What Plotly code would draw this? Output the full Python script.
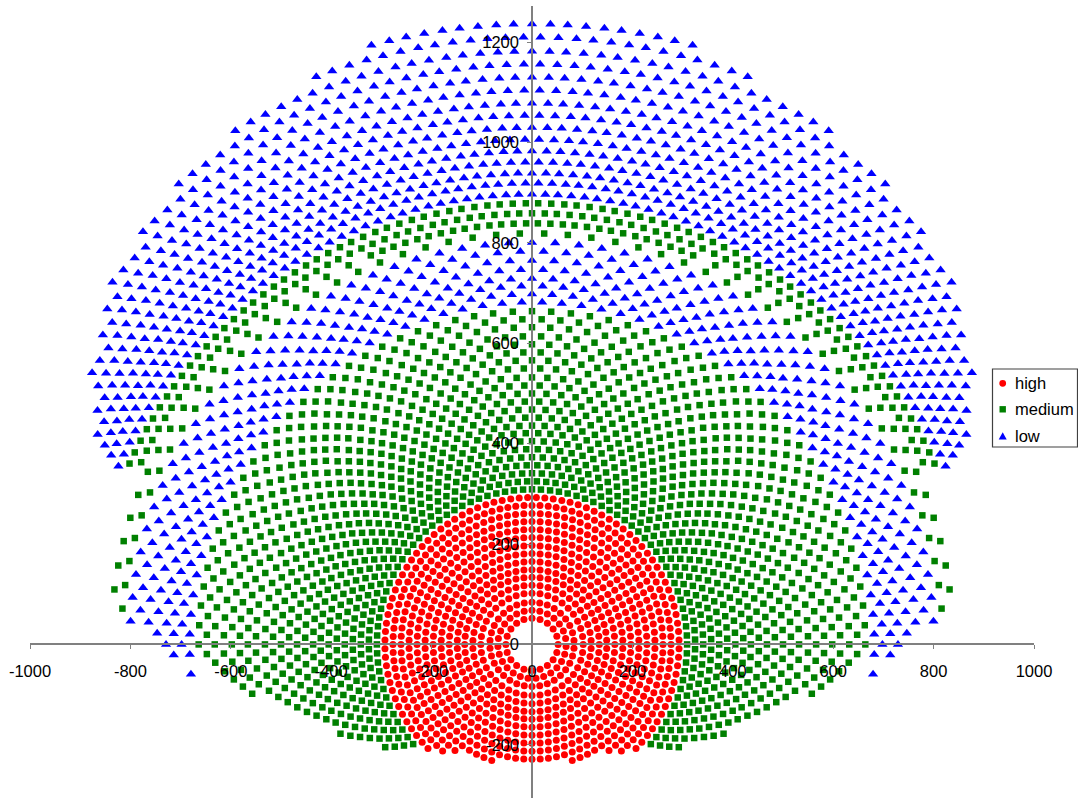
import math
import plotly.graph_objects as go

# Values estimated by eye from the reference: ring radii (data units), spoke angles
# (tenths of a degree from straight up, right half; left half is mirrored) and the
# largest angle each ring reaches.
S52 = [0,180,360,540,720,900,1080,1260,1440,1620,1800]
S68 = [0,133,267,400,533,667,800,933,1067,1200,1333,1467,1600,1733]
S84 = [0,106,212,318,424,529,635,741,847,953,1059,1165,1271,1376,1482,1588,1694,1800]
S102 = [0,90,180,270,360,450,540,630,720,810,900,990,1080,1170,1260,1350,1440,1530,1620,1710,1800]
S118 = [0,78,157,235,313,391,470,548,626,704,783,861,939,1017,1096,1174,1252,1330,1409,1487,1565,1643,1722,1800]
S134 = [0,69,138,208,277,346,415,485,554,623,692,762,831,900,969,1038,1108,1177,1246,1315,1385,1454,1523,1592,1662,1731,1800]
S149 = [0,62,124,186,248,310,372,434,497,559,621,683,745,807,869,931,993,1055,1117,1179,1241,1303,1366,1428,1490,1552,1614,1676,1738,1800]
S165 = [0,56,113,169,225,281,338,394,450,506,563,619,675,731,788,844,900,956,1013,1069,1125,1181,1238,1294,1350,1406,1463,1519,1575,1631,1688,1744,1800]
S181 = [0,51,103,154,206,257,309,360,411,463,514,566,617,669,720,771,823,874,926,977,1029,1080,1131,1183,1234,1286,1337,1389,1440,1491,1543,1594,1646,1697,1749,1800]
S197 = [0,47,95,142,189,237,284,332,379,426,474,521,568,616,663,711,758,805,853,900,947,995,1042,1089,1137,1184,1232,1279,1326,1374,1421,1468,1516,1563,1611,1658,1705,1753,1800]
S213 = [0,44,88,132,176,220,263,307,351,395,439,483,527,571,615,659,702,746,790,834,878,922,966,1010,1054,1098,1141,1185,1229,1273,1317,1361,1405,1449,1493,1537,1580,1624,1668,1712,1756,1800]
S229 = [0,41,82,123,164,205,245,286,327,368,409,450,491,532,573,614,655,695,736,777,818,859,900,941,982,1023,1064,1105,1145,1186,1227,1268,1309,1350,1391,1432,1473,1514,1555,1595,1636,1677,1718,1759,1800]
S245 = [0,38,77,115,153,191,230,268,306,345,383,421,460,498,536,574,613,651,689,728,766,804,843,881,919,957,996,1034,1072,1111,1149,1187,1226,1264,1302,1340,1379,1417,1455,1494,1532,1570,1609,1647]
S261 = [0,36,72,108,144,180,216,252,288,324,360,396,432,468,504,540,576,612,648,684,720,756,792,828,864,900,936,972,1008,1044,1080,1116,1152,1188,1224,1260,1296,1332,1368,1404,1440,1476]
E3 = [0,33,67,100,133,167,200,233,267,300,333,367,400,433,467,500,533,567,600,633,667,700,733,767,800,833,867,900,933,967,1000,1033,1067,1100,1133,1167,1200,1233,1267,1300,1333,1367,1400]
O3 = [17,50,83,117,150,183,217,250,283,317,350,383,417,450,483,517,550,583,617,650,683,717,750,783,817,850,883,917,950,983,1017,1050,1083,1117,1150,1183,1217,1250,1283,1317,1350,1383,1417]
A1 = [0,17,33,50,67,83,100,117,133,150,167,183,200,217,233,250,267,283,300,317,333,350,367,383,400,417,433,450,467,483,500,517,533,550,567,583,600,617,633,650,667,683,700]
B1 = [8,25,42,58,75,92,108,125,142,158,175,192,208,225,242,258,275,292,308,325,342,358,375,392,408,425,442,458,475,492,508,525,542,558,575,592,608,625,642,658,675,692]
S839 = [8,25,42,58,75,92,108,125,142,158,175,192,208,225,258,292,325,358,392,425,458,492,525,558,592,625,658,692,725,758,792,825]

high_radii = [52,68,84,102,118,134,149,165,181,197,213,229,245,261,277,293]
high_spokes = [S52,S68,S84,S102,S118,S134,S149,S165,S181,S197,S213,S229,S245,S261,E3,O3]
high_limits = [180,180,180,180,180,180,180,180,180,180,180,180,162,146,143,137]

medium_radii = [309,325,341,357,373,389,405,421,436,452,468,484,500,516,532,550,566,582,598,614,632,648,664,819,839,859,879]
medium_spokes = [E3,O3,E3,O3,E3,O3,E3,O3,E3,O3,E3,O3,E3,O3,E3,O3,E3,O3,E3,O3,E3,O3,E3,O3,S839,A1,B1]
medium_limits = [133,131,128,125,123,120,118,116,113,111,109,108,106,104,103,101,100,99,98.5,97.5,96,94.5,93,85,83,66,66.5]

low_radii = [682,698,714,729,747,765,783,801,897,919,939,961,983,1006,1030,1054,1078,1104,1130,1156,1182,1210,1236]
low_spokes = [O3,E3,O3,E3,O3,E3,O3,E3,A1,B1,A1,B1,A1,B1,A1,B1,A1,B1,A1,B1,A1,B1,A1]
low_limits = [95,93,92,90,89,88,87.5,86.7,67,66.5,65.7,65,62,60,59,55,52.5,49.5,44,38,31,21,15.5]

series_names = ["high", "medium", "low"]
x_ticks = [-1000,-800,-600,-400,-200,0,200,400,600,800,1000]
y_ticks = [-200,0,200,400,600,800,1000,1200]


def to_xy(radii, spokes, limits):
    xs, ys = [], []
    for r, sp, lim in zip(radii, spokes, limits):
        for tenth in sp:
            deg = tenth / 10
            if deg > lim:
                continue
            a = math.radians(deg)
            xs.append(r * math.sin(a))
            ys.append(r * math.cos(a))
            if 0 < tenth < 1800:
                xs.append(-r * math.sin(a))
                ys.append(r * math.cos(a))
    return xs, ys


fig = go.Figure()
styles = [("#ff0000", "circle", 7), ("#008000", "square", 6.5), ("#0000ff", "triangle-up", 9)]
for name, data, (color, symbol, size) in zip(
    series_names,
    [(high_radii, high_spokes, high_limits),
     (medium_radii, medium_spokes, medium_limits),
     (low_radii, low_spokes, low_limits)],
    styles,
):
    xs, ys = to_xy(*data)
    fig.add_trace(go.Scatter(x=xs, y=ys, mode="markers", name=name, showlegend=False,
                             marker=dict(color=color, symbol=symbol, size=size, line=dict(width=0))))

Y_MIN, Y_MAX = -306, 1272
L, R, T, B, W, H = 30, 44, 6, 0, 1078, 798
font = dict(family="Liberation Sans, Arial, sans-serif", size=16.5, color="#000000")
axis_common = dict(showgrid=False, zeroline=False, showline=True, linecolor="#808080", linewidth=1.5,
                   ticks="outside", ticklen=4, tickcolor="#808080", tickwidth=1, tickfont=font,
                   anchor="free", layer="above traces")


def px(x):
    return (x - L) / (W - L - R)


def py(y):
    return (H - B - y) / (H - T - B)


# Legend box, drawn at the reference's pixel position.
shapes = [dict(type="rect", xref="paper", yref="paper", x0=px(992.5), x1=px(1077.5), y0=py(447), y1=py(369),
               line=dict(color="#404040", width=1.2), fillcolor="#ffffff", layer="above")]
annotations = []
mx, tx = 1002.7, 1014
rows = [383.3, 409.3, 436]
shapes.append(dict(type="circle", xref="paper", yref="paper", x0=px(mx - 3.4), x1=px(mx + 3.4),
                   y0=py(rows[0] + 3.4), y1=py(rows[0] - 3.4), fillcolor="#ff0000", line=dict(width=0), layer="above"))
shapes.append(dict(type="rect", xref="paper", yref="paper", x0=px(mx - 3.2), x1=px(mx + 3.2),
                   y0=py(rows[1] + 3.2), y1=py(rows[1] - 3.2), fillcolor="#008000", line=dict(width=0), layer="above"))
tri = "M {} {} L {} {} L {} {} Z".format(px(mx - 4), py(rows[2] + 3.6), px(mx + 4), py(rows[2] + 3.6), px(mx), py(rows[2] - 3.8))
shapes.append(dict(type="path", xref="paper", yref="paper", path=tri, fillcolor="#0000ff", line=dict(width=0), layer="above"))
for name, row in zip(series_names, rows):
    annotations.append(dict(text=name, xref="paper", yref="paper", x=px(tx), y=py(row), xanchor="left",
                            yanchor="middle", showarrow=False, font=font, xshift=-1))

fig.update_layout(
    width=W, height=H, autosize=False, showlegend=False,
    margin=dict(l=L, r=R, t=T, b=B, pad=0),
    paper_bgcolor="#ffffff", plot_bgcolor="#ffffff", font=font,
    xaxis=dict(range=[-1000, 1000], tickmode="array", tickvals=x_ticks,
               ticktext=[str(v) for v in x_ticks], ticklabelstandoff=8,
               position=(0 - Y_MIN) / (Y_MAX - Y_MIN), **axis_common),
    yaxis=dict(range=[Y_MIN, Y_MAX], tickmode="array", tickvals=y_ticks,
               ticktext=[str(v) for v in y_ticks], ticklabelstandoff=5,
               position=0.5, **axis_common),
    shapes=shapes, annotations=annotations,
)
fig.write_html("out.html", config={"displayModeBar": False},
               post_script="document.body.style.margin='0';document.body.style.overflow='hidden';")
